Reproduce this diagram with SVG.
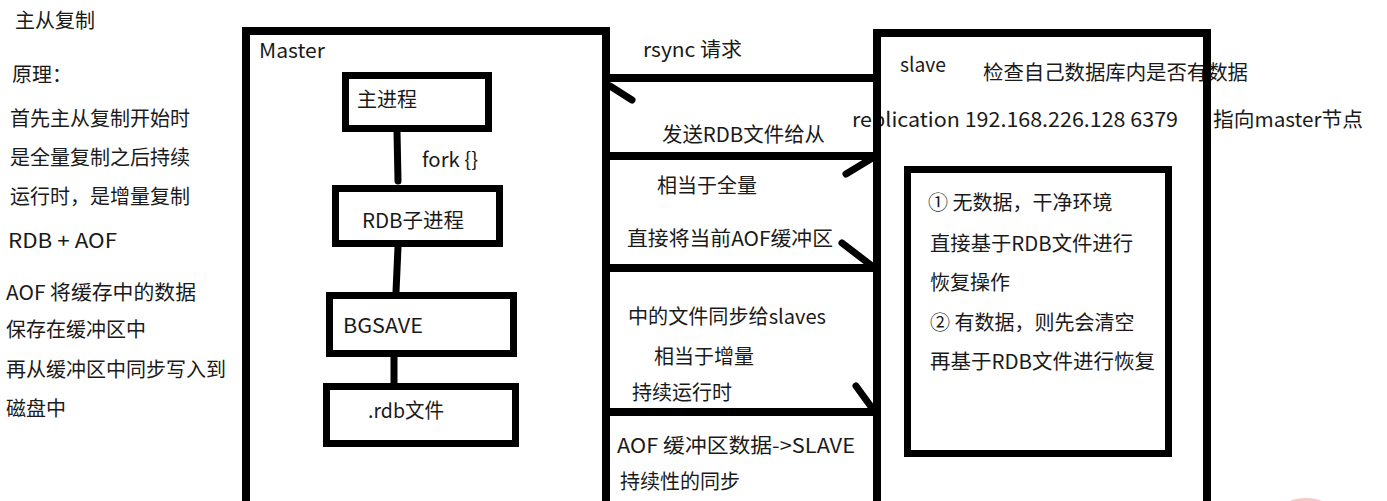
<svg xmlns="http://www.w3.org/2000/svg" width="1387" height="501" viewBox="0 0 1387 501">
<style>
text{font-family:"Microsoft YaHei","Noto Sans CJK SC",sans-serif;font-size:20px;fill:#1a1a1a}
.box{fill:none;stroke:#000;stroke-width:8}
.ibox{fill:none;stroke:#000;stroke-width:7}
.ln{stroke:#000;stroke-width:7;stroke-linecap:round;fill:none}
.edge{stroke:#000;stroke-width:8;fill:none}
</style>
<rect width="1387" height="501" fill="#fff"/>
<g id="notes">
<text x="15" y="28">主从复制</text>
<text x="12" y="82">原理：</text>
<text x="10" y="126">首先主从复制开始时</text>
<text x="10" y="165">是全量复制之后持续</text>
<text x="10" y="204">运行时，是增量复制</text>
<text x="8" y="248" textLength="109" lengthAdjust="spacingAndGlyphs">RDB + AOF</text>
<text x="6" y="300" textLength="190" lengthAdjust="spacingAndGlyphs">AOF 将缓存中的数据</text>
<text x="6" y="337">保存在缓冲区中</text>
<text x="6" y="377">再从缓冲区中同步写入到</text>
<text x="6" y="416">磁盘中</text>
</g>
<g id="master">
<path class="edge" d="M246 505 V31 H606 V505"/>
<text x="259" y="58" textLength="66" lengthAdjust="spacingAndGlyphs">Master</text>
</g>
<g id="main-process">
<rect class="ibox" x="345.5" y="75.5" width="143" height="53"/>
<text x="357" y="107">主进程</text>
</g>
<g id="rdb-child">
<rect class="ibox" x="335.5" y="188.5" width="164" height="55"/>
<text x="362" y="228" textLength="102" lengthAdjust="spacingAndGlyphs">RDB子进程</text>
</g>
<g id="bgsave">
<rect class="ibox" x="329.5" y="295.5" width="184" height="58"/>
<text x="343" y="333" textLength="80" lengthAdjust="spacingAndGlyphs">BGSAVE</text>
</g>
<g id="rdb-file">
<rect class="ibox" x="326.5" y="386.5" width="189" height="57"/>
<text x="368" y="418" textLength="76" lengthAdjust="spacingAndGlyphs">.rdb文件</text>
</g>
<g id="slave">
<text x="900" y="72" textLength="46" lengthAdjust="spacingAndGlyphs">slave</text>
<text x="983" y="80" textLength="265" lengthAdjust="spacingAndGlyphs">检查自己数据库内是否有数据</text>
<text x="852" y="127" textLength="326" lengthAdjust="spacingAndGlyphs">replication 192.168.226.128 6379</text>
<text x="1213" y="127" textLength="150" lengthAdjust="spacingAndGlyphs">指向master节点</text>
<path class="edge" d="M877 505 V33 H1207 V505"/>
</g>
<g id="slave-restore">
<rect class="ibox" x="907.5" y="169.5" width="261" height="284"/>
<text x="928" y="210">① 无数据，干净环境</text>
<text x="930" y="251" textLength="203" lengthAdjust="spacingAndGlyphs">直接基于RDB文件进行</text>
<text x="930" y="290">恢复操作</text>
<text x="930" y="330">② 有数据，则先会清空</text>
<text x="930" y="369" textLength="225" lengthAdjust="spacingAndGlyphs">再基于RDB文件进行恢复</text>
</g>
<g id="connectors">
<path class="ln" d="M397 131 L398 181"/>
<path class="ln" d="M398 247 L396 292"/>
<path class="ln" d="M394 357 L394 383"/>
<text x="422" y="167" textLength="56" lengthAdjust="spacingAndGlyphs">fork {}</text>
<path class="edge" d="M606 78 H877"/>
<path class="ln" d="M610 86 L632 100"/>
<text x="643" y="57" textLength="99" lengthAdjust="spacingAndGlyphs">rsync 请求</text>
<path class="edge" d="M606 156 H877"/>
<path class="ln" d="M846 174 L874 157"/>
<text x="662" y="142" textLength="163" lengthAdjust="spacingAndGlyphs">发送RDB文件给从</text>
<text x="657" y="193">相当于全量</text>
<text x="627" y="246" textLength="206" lengthAdjust="spacingAndGlyphs">直接将当前AOF缓冲区</text>
<path class="edge" d="M606 268 H877"/>
<path class="ln" d="M842 243 L872 266"/>
<text x="628" y="324" textLength="198" lengthAdjust="spacingAndGlyphs">中的文件同步给slaves</text>
<text x="654" y="364">相当于增量</text>
<text x="632" y="400">持续运行时</text>
<path class="edge" d="M606 412 H877"/>
<path class="ln" d="M856 386 L872 408"/>
<text x="617" y="453" textLength="238" lengthAdjust="spacingAndGlyphs">AOF 缓冲区数据->SLAVE</text>
<text x="620" y="489">持续性的同步</text>
</g>
<ellipse cx="1306" cy="512" rx="26" ry="14" fill="#f7c9c9"/>
</svg>
